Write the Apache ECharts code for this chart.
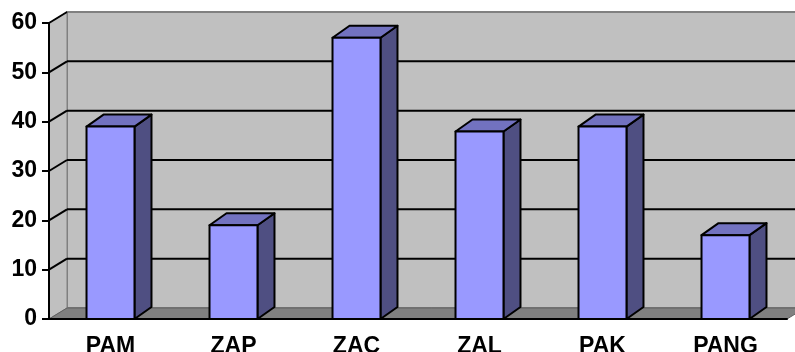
<!DOCTYPE html>
<html>
<head>
<meta charset="utf-8">
<script src="https://cdn.jsdelivr.net/npm/echarts@6/dist/echarts.min.js"></script>
<style>
  html, body { margin: 0; padding: 0; background: #fff; }
  #chart { width: 795px; height: 352px; }
</style>
</head>
<body>
<div id="chart"></div>
<script>
const categories = ['PAM', 'ZAP', 'ZAC', 'ZAL', 'PAK', 'PANG']
const values = [39, 19, 57, 38, 39, 17]
const yTicks = [0, 10, 20, 30, 40, 50, 60]

// depth offsets of the fake 3D box
const WALL_DX = 18
const WALL_DY = -11
const BAR_DX = 17
const BAR_DY = -12

const chart = echarts.init(document.getElementById('chart'))

const renderFrame = (params, api) => {
  const cs = params.coordSys
  const x0 = cs.x
  const x1 = cs.x + cs.width
  const yTop = api.coord([0, 60])[1]
  const yBot = api.coord([0, 0])[1]
  const children = []
  // back wall
  children.push({
    type: 'rect',
    shape: { x: x0 + WALL_DX, y: yTop + WALL_DY, width: cs.width + 40, height: yBot - yTop },
    style: { fill: '#c0c0c0', stroke: '#808080', lineWidth: 2 }
  })
  // side wall
  children.push({
    type: 'polygon',
    shape: { points: [[x0, yTop], [x0 + WALL_DX, yTop + WALL_DY], [x0 + WALL_DX, yBot + WALL_DY], [x0, yBot]] },
    style: { fill: '#c0c0c0', stroke: '#808080', lineWidth: 1 }
  })
  // floor
  children.push({
    type: 'polygon',
    shape: { points: [[x0, yBot], [x0 + WALL_DX, yBot + WALL_DY], [x1 + WALL_DX, yBot + WALL_DY], [x1, yBot]] },
    style: { fill: '#808080', stroke: '#606060', lineWidth: 1 }
  })
  // gridlines
  yTicks.forEach((v) => {
    if (v === 0) return
    const y = api.coord([0, v])[1]
    children.push({
      type: 'line',
      shape: { x1: x0, y1: y, x2: x0 + WALL_DX, y2: y + WALL_DY },
      style: { stroke: '#000', lineWidth: 2 }
    })
    if (v === 60) return
    children.push({
      type: 'line',
      shape: { x1: x0 + WALL_DX, y1: y + WALL_DY, x2: x1 + 40, y2: y + WALL_DY },
      style: { stroke: '#000', lineWidth: 2 }
    })
  })
  return { type: 'group', children }
}

const renderBar = (params, api) => {
  const top = api.coord([api.value(0), api.value(1)])
  const base = api.coord([api.value(0), 0])
  const w = api.size([1, 0])[0] * 0.39
  const x = top[0] - w / 2
  const yT = top[1]
  const yB = base[1]
  const line = { stroke: '#000', lineWidth: 2, lineJoin: 'round' }
  return {
    type: 'group',
    children: [
      {
        type: 'polygon',
        shape: { points: [[x + w, yT], [x + w + BAR_DX, yT + BAR_DY], [x + w + BAR_DX, yB + BAR_DY], [x + w, yB]] },
        style: { fill: '#4f4f82', ...line }
      },
      {
        type: 'polygon',
        shape: { points: [[x, yT], [x + BAR_DX, yT + BAR_DY], [x + w + BAR_DX, yT + BAR_DY], [x + w, yT]] },
        style: { fill: '#7272c0', ...line }
      },
      {
        type: 'rect',
        shape: { x, y: yT, width: w, height: yB - yT },
        style: { fill: '#9999ff', ...line }
      }
    ]
  }
}

chart.setOption({
  animation: false,
  grid: { left: 49, top: 23, width: 738, height: 296, outerBoundsMode: 'none', containLabel: false },
  xAxis: {
    type: 'category',
    data: categories,
    z: 5,
    axisLine: { lineStyle: { color: '#000', width: 2 } },
    axisTick: { length: 6, lineStyle: { color: '#000', width: 2 } },
    axisLabel: {
      color: '#000',
      fontFamily: 'Liberation Sans',
      fontWeight: 'bold',
      fontSize: 23,
      margin: 16
    },
    splitLine: { show: false }
  },
  yAxis: {
    type: 'value',
    min: 0,
    max: 60,
    interval: 10,
    z: 5,
    axisLine: { show: true, lineStyle: { color: '#000', width: 2 } },
    axisTick: { show: true, length: 7, lineStyle: { color: '#000', width: 2 } },
    axisLabel: {
      color: '#000',
      fontFamily: 'Liberation Sans',
      fontWeight: 'bold',
      fontSize: 23,
      margin: 12
    },
    splitLine: { show: false }
  },
  series: [
    {
      type: 'custom',
      z: 1,
      silent: true,
      renderItem: renderFrame,
      data: [[0, 0]]
    },
    {
      type: 'custom',
      z: 3,
      renderItem: renderBar,
      data: values.map((v, i) => [i, v])
    }
  ]
})
</script>
</body>
</html>
